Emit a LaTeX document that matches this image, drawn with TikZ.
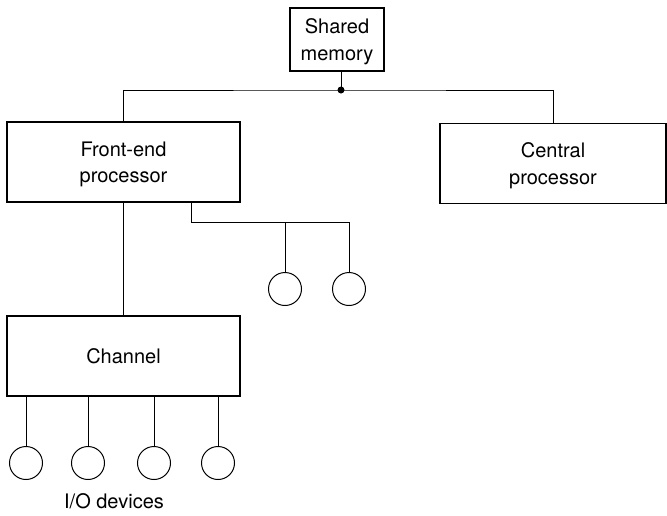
\documentclass[tikz,border=0pt]{standalone}
\usepackage{fontspec}
\setmainfont{TeX Gyre Heros}
\tikzset{
	unit/.style={draw, line width=1.1pt, rectangle, align=center, inner sep=2pt, text depth=0pt},
	dev/.style={draw, line width=1pt, circle, minimum size=33pt, inner sep=0pt},
	wire/.style={line width=1pt}
}
\begin{document}
\begin{tikzpicture}[x=1pt,y=-1pt,font=\fontsize{20}{26.5}\selectfont]
			\useasboundingbox (0,0) rectangle (667,515);
			\node [unit, minimum width=94pt, minimum height=63pt] (mem) at (337,39.5) {Shared\\memory};
			\node [unit, minimum width=233pt, minimum height=80pt] (fep) at (123.5,162) {Front-end\\processor};
			\node [unit, minimum width=226pt, minimum height=80pt] (cpu) at (553,163.5) {Central\\processor};
			\node [unit, minimum width=233pt, minimum height=80pt] (chan) at (123.5,356) {Channel};
			\node [dev] (e1) at (285,289) {};
			\node [dev] (e2) at (349,289) {};
			\node [dev] (d1) at (26,463) {};
			\node [dev] (d2) at (88,463) {};
			\node [dev] (d3) at (154,463) {};
			\node [dev] (d4) at (218,463) {};
			\node (io) at (114,501) {I/O devices};
			\coordinate (bus) at (341,90);
			\coordinate (tap) at (191,222);
			\fill (bus) circle (3.5pt);
			\draw [wire] (mem.south -| bus) to (bus);
			\draw [wire] (fep.north) |- (bus) -| (cpu.north);
			\draw [wire] (fep.south) to (chan.north);
			\draw [wire] (fep.south -| tap) to (tap) -| (e2.north);
			\draw [wire] (e1.north |- tap) to (e1.north);
			\foreach \i in {1,...,4}
				\draw [wire] (chan.south -| d\i) to (d\i.north);
		\end{tikzpicture}
\end{document}
